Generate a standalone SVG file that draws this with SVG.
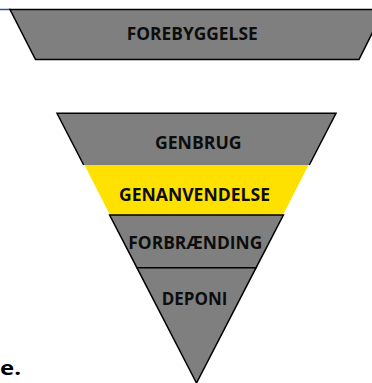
<svg xmlns="http://www.w3.org/2000/svg" width="372" height="383" viewBox="0 0 372 383">
  <style>
    .band { fill: #7f7f7f; stroke: none; }
    .edge { fill: none; stroke: #000; stroke-width: 1.5; stroke-linejoin: miter; }
    .lbl { font-family: "Open Sans", "Liberation Sans", sans-serif; font-weight: bold; font-size: 18px; fill: #0d0d0d; text-anchor: middle; }
  </style>
  <rect width="372" height="383" fill="#fff"/>
  <line x1="0" y1="9.5" x2="11" y2="9.5" stroke="#2f5597" stroke-width="1.5"/>
  <g id="forebyggelse">
    <polygon class="band" points="10,9.5 384,9.5 359,59.5 35.5,59.5"/>
    <polygon class="edge" points="10,9.5 384,9.5 359,59.5 35.5,59.5"/>
    <text class="lbl" x="192.2" y="40.3" textLength="131" lengthAdjust="spacingAndGlyphs">FOREBYGGELSE</text>
  </g>
  <g id="genbrug">
    <polygon class="band" points="57,113.3 336,113.3 309.3,165 83.7,165"/>
    <polyline class="edge" points="83.7,165 57,113.3 336,113.3 309.3,165"/>
    <text class="lbl" x="198.3" y="148.5" textLength="86.7" lengthAdjust="spacingAndGlyphs">GENBRUG</text>
  </g>
  <g id="genanvendelse">
    <polygon fill="#ffe100" points="84.5,165 308.5,165 283,215 110,215"/>
    <text class="lbl" x="194.5" y="200.9" textLength="151" lengthAdjust="spacingAndGlyphs">GENANVENDELSE</text>
  </g>
  <g id="forbraending">
    <polygon class="band" points="109.6,215 283.4,215 256.1,267.7 136.9,267.7"/>
    <polygon class="edge" points="109.6,215 283.4,215 256.1,267.7 136.9,267.7"/>
    <text class="lbl" x="195.3" y="248.5" textLength="134" lengthAdjust="spacingAndGlyphs">FORBRÆNDING</text>
  </g>
  <g id="deponi">
    <polygon class="band" points="136.9,267.7 256.1,267.7 196.5,383"/>
    <polygon class="edge" points="136.9,267.7 256.1,267.7 196.5,383"/>
    <text class="lbl" x="194.5" y="305.2" textLength="65.7" lengthAdjust="spacingAndGlyphs">DEPONI</text>
  </g>
  <g id="connectors"/>
  <text x="0" y="375" font-family="Open Sans, Liberation Sans, sans-serif" font-weight="bold" font-size="20" fill="#000" textLength="21" lengthAdjust="spacingAndGlyphs">e.</text>
</svg>
